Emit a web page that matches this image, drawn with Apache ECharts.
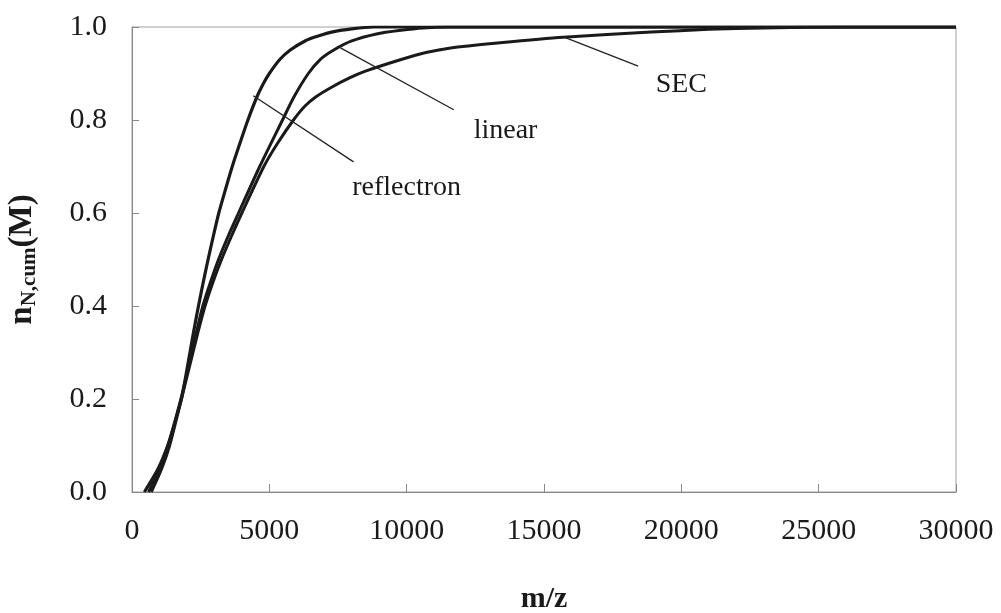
<!DOCTYPE html>
<html>
<head>
<meta charset="utf-8">
<script src="https://cdn.jsdelivr.net/npm/echarts@6/dist/echarts.min.js"></script>
<style>
    html, body { margin: 0; padding: 0; background: #fff; }
    #chart { width: 1001px; height: 613px; }
</style>
</head>
<body>
<div id="chart"></div>
<script>
    // 曲线数据 (m/z, n)
    var reflectron = [
        [450, 0], [950, 0.05], [1300, 0.1], [1560, 0.15], [1800, 0.2], [1960, 0.25],
        [2110, 0.3], [2260, 0.35], [2420, 0.4], [2590, 0.45], [2770, 0.5], [2960, 0.55],
        [3160, 0.6], [3400, 0.65], [3650, 0.7], [3930, 0.75], [4220, 0.8], [4550, 0.85],
        [4800, 0.88], [5000, 0.9], [5380, 0.93], [5750, 0.95], [6300, 0.97], [6750, 0.98],
        [7350, 0.99], [8000, 0.996], [8800, 1.0], [12000, 1.0], [20000, 1.0], [30000, 1.0]
    ];
    var linear = [
        [600, 0], [1000, 0.05], [1320, 0.1], [1780, 0.2], [1980, 0.25], [2170, 0.3],
        [2370, 0.35], [2580, 0.4], [2850, 0.45], [3150, 0.5], [3500, 0.55], [3880, 0.6],
        [4650, 0.7], [5480, 0.8], [5900, 0.85], [6420, 0.9], [6850, 0.93], [7330, 0.95],
        [8000, 0.97], [8900, 0.985], [9800, 0.993], [10600, 0.998], [11500, 1.0],
        [15000, 1.0], [22000, 1.0], [30000, 1.0]
    ];
    var sec = [
        [700, 0], [1080, 0.05], [1370, 0.1], [1800, 0.2], [2010, 0.25], [2220, 0.3],
        [2430, 0.35], [2660, 0.4], [2940, 0.45], [3260, 0.5], [3620, 0.55], [4000, 0.6],
        [4800, 0.7], [5300, 0.75], [5880, 0.8], [6300, 0.83], [6700, 0.85], [7250, 0.87],
        [7900, 0.89], [8500, 0.905], [9800, 0.93], [10700, 0.945], [11600, 0.955],
        [13400, 0.966], [15700, 0.978], [18900, 0.989], [21000, 0.995], [23000, 0.998],
        [26000, 1.0], [30000, 1.0]
    ];
    // 标注引线 [起点, 终点] 和文字位置
    var leaderReflectron = [[4416, 0.852], [8066, 0.71]];
    var leaderLinear = [[7591, 0.955], [11715, 0.822]];
    var leaderSec = [[15730, 0.978], [18430, 0.916]];
    var labelPos = { reflectron: [10000, 0.654], linear: [13600, 0.778], SEC: [20000, 0.875] };
    var xTicks = [0, 5000, 10000, 15000, 20000, 25000, 30000];
    var yTicks = [0, 0.2, 0.4, 0.6, 0.8, 1.0];

    var font = '"Liberation Serif", "Times New Roman", serif';
    var mychart = echarts.init(document.getElementById('chart'));

    function leader(line) {
        return {
            silent: true,
            symbol: 'none',
            lineStyle: { color: '#222', width: 1.3, type: 'solid' },
            label: { show: false },
            data: [[{ coord: line[0] }, { coord: line[1] }]]
        };
    }
    function tag(name) {
        return {
            silent: true,
            symbol: 'circle',
            symbolSize: 0,
            label: {
                show: true, position: 'inside', formatter: name,
                color: '#1a1a1a', fontFamily: font, fontSize: 28
            },
            data: [{ coord: labelPos[name] }]
        };
    }
    function curve(name, data, width) {
        return {
            name: name,
            type: 'line',
            data: data,
            smooth: 0.25,
            symbol: 'none',
            lineStyle: { color: '#1a1a1a', width: width },
            markLine: leader(name == 'reflectron' ? leaderReflectron : name == 'linear' ? leaderLinear : leaderSec),
            markPoint: tag(name),
            z: 3
        };
    }

    var option = {
        backgroundColor: '#fff',
        animation: false,
        grid: {
            left: 132, right: 45, top: 27, bottom: 121,
            outerBoundsMode: 'none',
            show: true, borderColor: '#a0a0a0', borderWidth: 1
        },
        xAxis: {
            type: 'value',
            min: 0, max: 30000, interval: 5000,
            name: 'm/z',
            nameLocation: 'middle',
            nameGap: 92,
            nameTextStyle: { fontFamily: font, fontSize: 30, fontWeight: 'bold', color: '#1a1a1a' },
            axisLine: { show: true, lineStyle: { color: '#888', width: 1 } },
            axisTick: { show: true, inside: true, length: 8, lineStyle: { color: '#888' } },
            axisLabel: {
                margin: 24, fontFamily: font, fontSize: 30, color: '#1a1a1a',
                formatter: function (v) { return xTicks.indexOf(v) >= 0 ? String(v) : ''; }
            },
            splitLine: { show: false }
        },
        yAxis: {
            type: 'value',
            min: 0, max: 1, interval: 0.2,
            name: '{a|n}{b|N,cum}{a|(M)}',
            nameLocation: 'middle',
            nameRotate: 90,
            nameGap: 92,
            nameTextStyle: {
                rich: {
                    a: { fontFamily: font, fontSize: 33, fontWeight: 'bold', color: '#1a1a1a' },
                    b: { fontFamily: font, fontSize: 21, fontWeight: 'bold', color: '#1a1a1a', padding: [15, 0, 0, 0] }
                }
            },
            axisLine: { show: true, lineStyle: { color: '#888', width: 1 } },
            axisTick: { show: true, inside: true, length: 7, lineStyle: { color: '#888' } },
            axisLabel: {
                margin: 25, fontFamily: font, fontSize: 30, color: '#1a1a1a',
                formatter: function (v) { return yTicks.indexOf(Math.round(v * 10) / 10) >= 0 ? v.toFixed(1) : ''; }
            },
            splitLine: { show: false }
        },
        series: [
            curve('reflectron', reflectron, 3.2),
            curve('linear', linear, 3),
            curve('SEC', sec, 3)
        ]
    };
    mychart.setOption(option);
</script>
</body>
</html>
